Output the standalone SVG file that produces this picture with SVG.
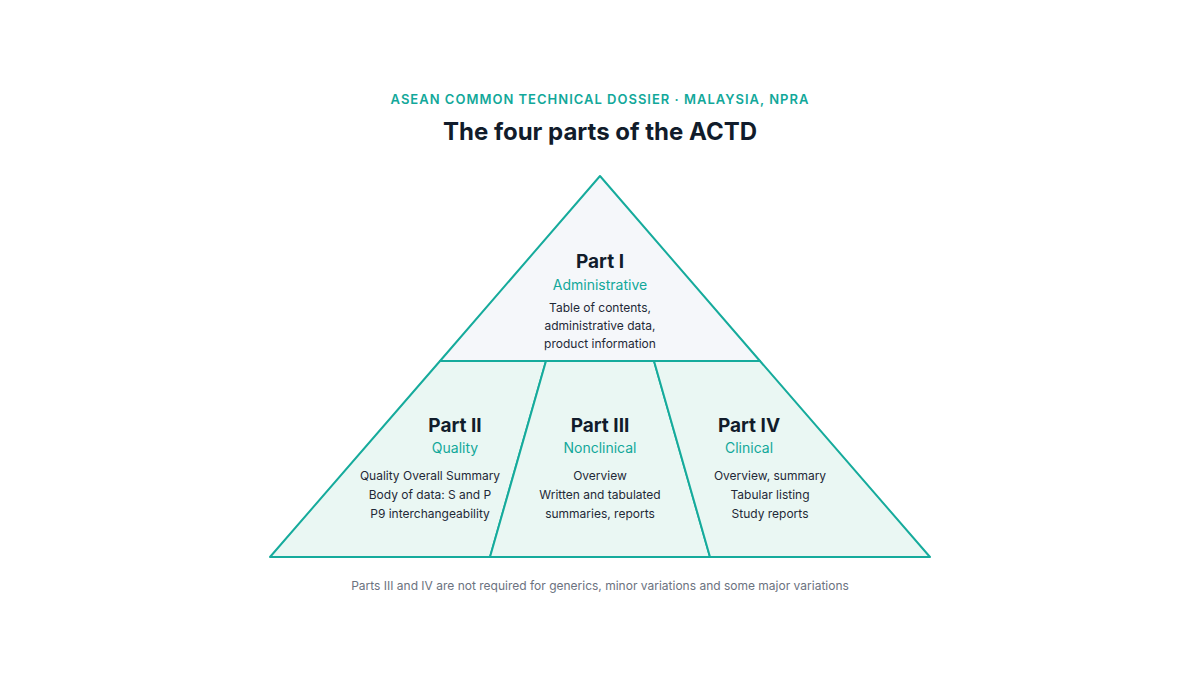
<svg xmlns="http://www.w3.org/2000/svg" width="1200" height="675" viewBox="0 0 1200 675">
<style>
text{font-family:Inter,"Liberation Sans",sans-serif;text-anchor:middle}
.t{font-size:19px;font-weight:700;fill:#111c2b}
.s{font-size:14px;fill:#12a89a}
.b{font-size:12px;fill:#1f2937}
.e{stroke:#16ab9c;stroke-width:2;stroke-linejoin:round}
</style>
<rect width="1200" height="675" fill="#fff"/>
<text x="600" y="104" style="font-size:13px;font-weight:600;fill:#12a89a;letter-spacing:1px">ASEAN COMMON TECHNICAL DOSSIER · MALAYSIA, NPRA</text>
<text x="600" y="140" style="font-size:24px;font-weight:700;fill:#111c2b">The four parts of the ACTD</text>
<g id="part1">
<polygon class="e" points="600,176 760,361 440,361" fill="#f5f7fa"/>
<text class="t" x="600" y="268">Part I</text>
<text class="s" x="600" y="290">Administrative</text>
<text class="b" x="600" y="312">Table of contents,</text>
<text class="b" x="600" y="330">administrative data,</text>
<text class="b" x="600" y="348">product information</text>
</g>
<g id="part2">
<polygon class="e" points="440,361 546,361 490,557 270,557" fill="#eaf7f3"/>
<text class="t" x="455" y="432">Part II</text>
<text class="s" x="455" y="453">Quality</text>
<text class="b" x="430" y="480">Quality Overall Summary</text>
<text class="b" x="430" y="499">Body of data: S and P</text>
<text class="b" x="430" y="518">P9 interchangeability</text>
</g>
<g id="part3">
<polygon class="e" points="546,361 654,361 710,557 490,557" fill="#eaf7f3"/>
<text class="t" x="600" y="432">Part III</text>
<text class="s" x="600" y="453">Nonclinical</text>
<text class="b" x="600" y="480">Overview</text>
<text class="b" x="600" y="499">Written and tabulated</text>
<text class="b" x="600" y="518">summaries, reports</text>
</g>
<g id="part4">
<polygon class="e" points="654,361 760,361 930,557 710,557" fill="#eaf7f3"/>
<text class="t" x="749" y="432">Part IV</text>
<text class="s" x="749" y="453">Clinical</text>
<text class="b" x="770" y="480">Overview, summary</text>
<text class="b" x="770" y="499">Tabular listing</text>
<text class="b" x="770" y="518">Study reports</text>
</g>
<g id="connectors"></g>
<text x="600" y="590" style="font-size:12px;fill:#6b7280">Parts III and IV are not required for generics, minor variations and some major variations</text>
</svg>
